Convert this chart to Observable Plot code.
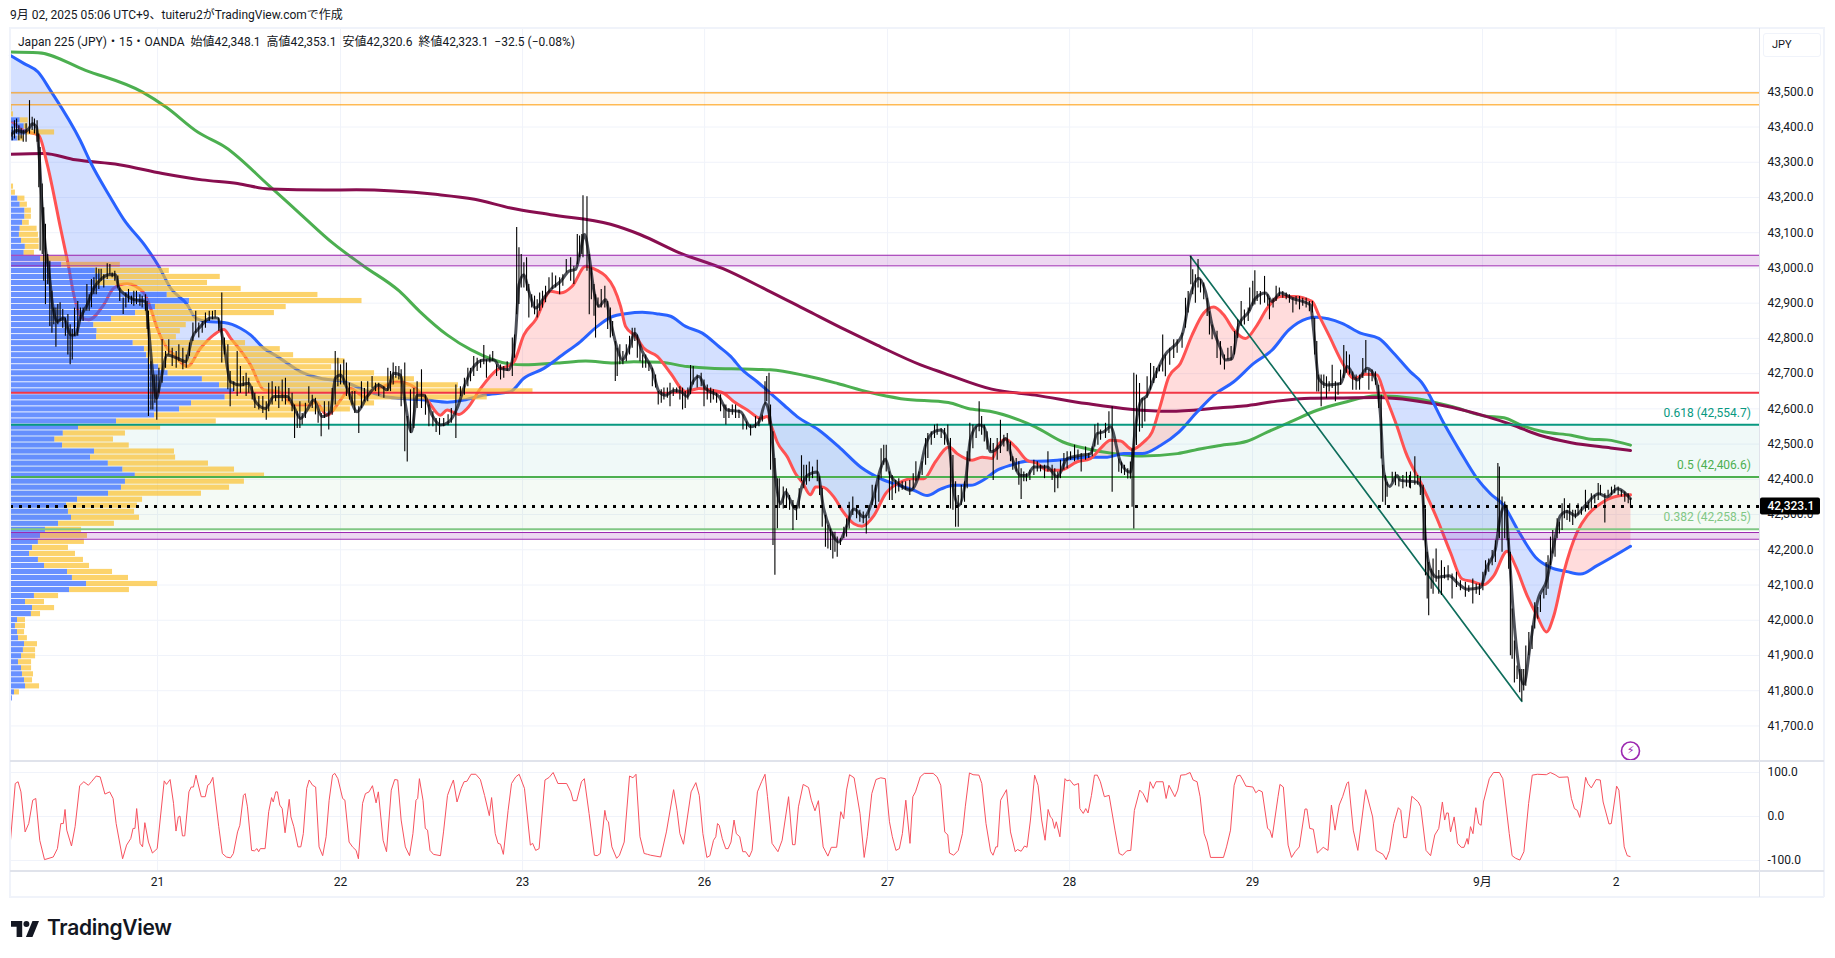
<!DOCTYPE html>
<html><head><meta charset="utf-8">
<style>
html,body{margin:0;padding:0;background:#fff;width:1835px;height:958px;overflow:hidden;font-family:Roboto,"Noto Sans CJK JP",sans-serif;color:#131722}
.abs{position:absolute}
#main{width:1835px;height:760px}
#osc{width:1835px;height:137px}
#main svg,#osc svg{max-width:none!important;display:block}
</style>
<script src="https://cdn.jsdelivr.net/npm/d3@7"></script>
<script src="https://cdn.jsdelivr.net/npm/@observablehq/plot@0.6"></script>
</head><body>
<div class="abs" id="main" style="left:0;top:0"></div>
<div class="abs" id="osc" style="left:0;top:760px"></div>
<div class="abs" style="left:9px;top:27px;width:1815px;height:2px;background:#f0f3fa"></div>
<div class="abs" style="left:9px;top:27px;width:2px;height:870px;background:#f0f3fa"></div>
<div class="abs" style="left:9px;top:896px;width:1815px;height:2px;background:#f0f3fa"></div>
<div class="abs" style="left:1823px;top:27px;width:2px;height:870px;background:#f0f3fa"></div>
<div class="abs" style="left:10px;top:760px;width:1814px;height:2px;background:#e0e3eb"></div>
<div class="abs" style="left:10px;top:870px;width:1814px;height:2px;background:#e0e3eb"></div>
<div class="abs" style="left:1759px;top:28px;width:1px;height:869px;background:#e0e3eb"></div>
<div class="abs" style="left:1763px;top:33px;width:56px;height:22px;border:1px solid #f0f3fa;border-radius:3px;font-size:11px;line-height:22px;text-indent:8px">JPY</div>
<div class="abs" style="left:10px;top:5px;font-size:12px;white-space:nowrap;color:#131722">9月 02, 2025 05:06 UTC+9、tuiteru2がTradingView.comで作成</div>
<div class="abs" style="left:18px;top:32px;font-size:12px;white-space:pre;color:#131722">Japan 225 (JPY)・15・OANDA  始値42,348.1  高値42,353.1  安値42,320.6  終値42,323.1  −32.5 (−0.08%)</div>
<div class="abs" style="left:11px;top:921px;width:28px;height:16px">
<svg width="28" height="16" viewBox="0 0 30 17"><path fill="#131722" d="M0 0h12v17H6V6H0z"/><circle cx="16.5" cy="3.2" r="3.2" fill="#131722"/><path fill="#131722" d="M23 0h7l-7 17h-7z"/></svg></div>
<div class="abs" style="left:47px;top:915px;font-size:21px;font-weight:600;letter-spacing:-.3px;font-family:Inter,Roboto,sans-serif;color:#131722">TradingView</div>
<script>
// time axis (position in 15-minute bars)
const dayBars = [77.4,173.7,269.5,365.3,461.6,557.4,653.7,774.7,845];
const dayLabels = ["21","22","23","26","27","28","29","9月","2"];
const priceTicks = [41700,41800,41900,42000,42100,42200,42300,42400,42500,42600,42700,42800,42900,43000,43100,43200,43300,43400,43500];
const oscTicks = [100,0,-100];

// horizontal levels
const orangeBand = [43463,43497];
const purpleTop = [43006,43036];
const purpleLow = [42230,42249];
const redLevel = 42646;
const fib618 = 42554.7, fib500 = 42406.6, fib382 = 42258.5;
const lastClose = 42323.1;
const trendLine = [[621,43033],[795.4,41770]];

// volume profile rows (top to bottom)
const vpBlue = [0,0,5.1,7.2,8.3,4,0,0,0,0,0,0,0,0,0,3.9,5.1,7.6,7.6,6.4,5.1,4.7,5.8,7.8,7.2,15.9,27,44.7,47.4,44.7,57.9,82.5,94.2,76.3,65.8,53.2,43.9,45.6,45.3,64.6,70.5,71.6,72.8,78,83,101,110,118,113,95.3,89,75.8,55.8,35.8,27.8,23.4,27.4,44.2,42.1,51.5,59.2,65.7,60.5,58.4,51.6,35.3,29.5,30.5,32.1,25.3,18.4,15.8,14.7,11.6,10,14.7,17.9,30,32.6,40,31.1,12.6,7.9,11.6,11,3.7,2.6,3.7,4.2,7.4,6.8,5.8,4.2,5.8,6.3,7.4,7.9,2.1,1];
const vpTotal = [1,1.6,9.3,9.3,23.2,7.2,.4,.4,.4,.4,.4,.4,.4,1.6,2.6,7.6,8.9,11,11,9.9,14,14.7,15.1,15.1,12.6,30.1,57.8,83.6,110.4,103.7,121.4,161.8,185,145.1,138.9,103.5,92.5,89.4,87.3,123.7,142,149,176,169,191.6,212.6,235.8,275,250.9,191.6,178.9,150.3,108.3,79,60.5,54.2,62.5,86.3,86.9,104.2,117.9,133.7,123.1,115.3,100.5,69.5,66.8,65.3,67.9,54.7,37.4,40.5,38.9,30.5,34.2,38.4,41.6,53.7,62.1,77.4,62.6,25.3,17.9,23.2,15.8,7.9,7.9,7.4,8.9,14.2,13.2,13.2,11.1,11.1,12.1,11.6,15.3,4.7,1];
const vpTopPrice = 43453, vpStep = 17.09;

// moving averages [bar, price]
const greenMA = [[0,43613],[14.5,43611],[39.5,43561],[69.5,43499],[82,43456],[98.7,43385],[113.3,43342],[136.2,43233],[152.6,43153],[169.5,43071],[186,43005],[204.7,42934],[215.3,42877],[229.8,42810],[242.2,42768],[263.2,42727],[270.2,42725],[287.8,42730],[302.7,42736],[317.6,42730],[328.1,42734],[342.1,42732],[356.2,42720],[368.5,42715],[386,42713],[400,42711],[418.7,42694],[435.3,42672],[452,42647],[468.6,42629],[493.6,42618],[504,42601],[515.4,42593],[531,42568],[539.3,42549],[553.9,42506],[566.4,42487],[581,42473],[595.5,42466],[614.2,42473],[626.7,42487],[636.7,42496],[650.8,42508],[661.4,42534],[673.6,42563],[687.7,42596],[701.7,42618],[719.2,42637],[740.3,42629],[759,42606],[775.7,42580],[786,42575],[794.4,42555],[806.9,42535],[821.4,42525],[831.8,42514],[840.2,42512],[852.6,42497]];
const maroonMA = [[0,43323],[17.6,43325],[34.2,43307],[57.2,43293],[80,43268],[100.8,43250],[119.5,43240],[136.2,43224],[165.3,43221],[182,43222],[223.6,43209],[244.2,43195],[263.2,43170],[284.3,43151],[315.8,43124],[331.3,43095],[352.1,43043],[375,42998],[397.9,42938],[418.7,42881],[439.5,42824],[456.1,42781],[479,42725],[491.5,42701],[516.4,42656],[539.3,42639],[566.4,42615],[589.3,42599],[610.1,42593],[636.7,42603],[649,42608],[666.6,42622],[684.2,42630],[701.7,42631],[719.2,42632],[738.2,42624],[759,42604],[775.7,42580],[790.2,42555],[804.8,42525],[821.4,42504],[842.2,42489],[852.6,42482]];
const blueMA = [[0,43603],[7.2,43580],[14.5,43556],[21,43504],[36.8,43361],[42.1,43300],[52.6,43200],[59.6,43138],[71,43062],[78,43005],[84.2,42943],[93,42896],[97.4,42858],[103.5,42848],[112.3,42845],[121,42829],[126.3,42810],[133.3,42772],[140.3,42749],[152.6,42706],[163.1,42687],[175.4,42677],[186,42654],[196.5,42635],[205.2,42630],[219.3,42625],[229.8,42619],[238.6,42625],[249.1,42639],[263.1,42649],[270.2,42687],[280.7,42715],[290.4,42753],[300,42791],[308.8,42834],[315.8,42860],[324.6,42871],[332.5,42874],[341.3,42869],[347.4,42863],[355.3,42834],[364.1,42815],[372.8,42777],[379,42749],[385.1,42711],[393,42677],[400,42644],[407,42611],[414,42578],[425.4,42540],[436.8,42488],[447.4,42435],[457.9,42402],[467.5,42383],[475.4,42369],[482.5,42354],[489.5,42372],[496.5,42383],[505.3,42383],[512.3,42399],[519.3,42426],[526.3,42440],[535,42451],[545.6,42452],[556.1,42457],[566.7,42463],[577.2,42463],[585.9,42473],[595.6,42473],[605.2,42496],[614.9,42534],[624.5,42591],[633.3,42639],[643.8,42677],[654.3,42729],[664,42767],[672.8,42824],[682.4,42856],[686.8,42860],[700.8,42843],[710.5,42815],[720.1,42800],[728,42758],[736.8,42705],[742.4,42677],[754.8,42555],[763.1,42478],[771.9,42402],[778.9,42359],[785.9,42326],[792.9,42260],[802.6,42179],[810.5,42150],[819.2,42138],[826.3,42131],[835,42155],[852.6,42210]];
const redMA = [[0.9,43414],[7,43390],[14.9,43376],[19.3,43295],[26.3,43114],[30.7,43000],[33.3,42924],[37.7,42858],[41.2,42853],[49.1,42896],[54.4,42943],[61.4,42955],[70.2,42929],[73.7,42886],[77.2,42829],[82.5,42772],[86,42753],[93,42720],[100,42772],[107,42810],[112.3,42825],[115.8,42801],[122.8,42753],[126.3,42725],[133.3,42654],[141.2,42649],[149.1,42611],[157,42611],[160.5,42620],[166.7,42582],[173.7,42625],[178.9,42658],[186,42635],[192.1,42654],[198.2,42668],[203.5,42677],[210.5,42668],[219.3,42625],[226.3,42582],[229.8,42597],[236,42584],[240.3,42601],[247.4,42658],[256.1,42711],[263.1,42725],[265,42734],[270.2,42810],[276.4,42853],[284.3,42934],[289.5,42929],[295.6,42948],[302.7,43005],[308.8,42993],[313.2,42977],[317.6,42943],[321.1,42891],[323.7,42834],[329,42806],[333.4,42772],[340.4,42749],[347.4,42701],[355.3,42649],[362.3,42658],[370.2,42652],[375.5,42644],[380.8,42620],[387.8,42597],[394.8,42573],[398.3,42578],[400.9,42544],[403.5,42506],[408.8,42464],[413.2,42416],[416.7,42392],[421,42356],[423.7,42378],[427.2,42378],[433.3,42350],[437.7,42312],[443.9,42274],[448.2,42267],[454.4,42297],[460.5,42359],[468.4,42392],[473.7,42402],[480.7,42402],[486.8,42450],[493.9,42492],[498.2,42473],[506.1,42454],[511.4,42463],[516.7,42459],[519.3,42492],[523.7,42514],[528.9,42492],[535,42454],[540.4,42445],[545.6,42426],[552.6,42426],[561.4,42450],[568.4,42459],[573.7,42488],[578.9,42511],[584.2,42509],[590.3,42485],[596.4,42506],[600.8,42534],[605.2,42610],[609.6,42691],[615.7,42729],[621.9,42810],[628,42872],[633.3,42889],[638.5,42867],[643.8,42824],[650,42800],[656.1,42838],[661.4,42886],[668.4,42919],[675.4,42919],[685,42905],[688.5,42867],[693.8,42810],[701.7,42724],[707,42686],[713.1,42698],[719.2,42696],[722.8,42648],[729.8,42549],[734.2,42478],[742.9,42383],[750.8,42288],[757.8,42193],[764,42117],[769.2,42110],[775.4,42101],[780.6,42126],[787.7,42196],[792,42155],[798.2,42070],[803.5,42012],[808.4,41967],[812.2,42012],[817.5,42136],[824.5,42250],[829.8,42297],[836.8,42331],[843.8,42350],[852.6,42356]];
const darkMA = [[0,43376],[3.5,43390],[7,43385],[9.6,43395],[11.4,43409],[13.7,43400],[14.9,43333],[16.7,43171],[18.4,43057],[20.2,42991],[21.9,42905],[24.6,42848],[28,42858],[31.6,42810],[34.2,42810],[36.8,42858],[40.4,42896],[43.9,42943],[47.4,42967],[51.8,42981],[55.3,42981],[57,42943],[60.5,42924],[64.9,42910],[71,42905],[72.8,42820],[74.6,42715],[76.8,42630],[78.9,42677],[82.5,42753],[87.7,42744],[92.1,42734],[95.6,42801],[100,42834],[105.3,42858],[108.8,42858],[112.3,42782],[115.8,42677],[121,42668],[125.4,42673],[129,42620],[134.2,42601],[138.6,42635],[145.6,42635],[149.1,42606],[152.6,42573],[156.1,42597],[159.6,42625],[164,42578],[168.4,42592],[171,42687],[173.7,42696],[177.2,42658],[182.4,42592],[187.7,42635],[193.8,42668],[198.2,42654],[201.7,42701],[205.2,42696],[207.9,42611],[211,42535],[214,42639],[217.5,42639],[221.9,42582],[226.3,42554],[230.7,42563],[235,42601],[239.5,42673],[243.8,42720],[249.1,42739],[254.4,42739],[257.9,42715],[262.3,42711],[265.8,42810],[267.6,42953],[270.2,42981],[272.8,42934],[276.4,42886],[280.7,42915],[285.1,42943],[289.5,42962],[293.9,42991],[297.4,42996],[300,43048],[302.1,43095],[304.4,43038],[307.1,42934],[309.7,42891],[313.2,42910],[315.8,42848],[319.3,42772],[322,42739],[325.5,42772],[328.5,42815],[332.5,42763],[337.8,42711],[341.3,42649],[344.8,42639],[349.2,42652],[352.7,42649],[356.2,42635],[358.8,42673],[362.3,42692],[365.8,42658],[372.8,42635],[377.2,42597],[384.2,42592],[389.5,42549],[393.9,42563],[397.4,42616],[400,42563],[402.7,42402],[405.3,42331],[408,42364],[409.6,42350],[413.2,42316],[416.7,42383],[419.3,42411],[424.6,42421],[428,42316],[431.6,42255],[436,42222],[439.5,42259],[443.9,42316],[449.1,42293],[454.4,42354],[457.9,42430],[460.5,42457],[463.2,42411],[468.4,42383],[473.7,42369],[478,42411],[481.6,42497],[486,42535],[489.5,42540],[493.9,42497],[496.5,42364],[499.1,42326],[502.6,42393],[505.3,42516],[509.6,42554],[512.3,42549],[515.8,42478],[521,42497],[523.7,42516],[527.2,42459],[531.6,42411],[535,42411],[538.6,42435],[545.6,42435],[550.9,42407],[556.1,42459],[563.2,42468],[568.4,42473],[571.9,42530],[575.4,42535],[578.9,42549],[584.2,42449],[589.4,42420],[592,42544],[594.7,42620],[598.2,42639],[601.7,42686],[607,42748],[616.6,42810],[621,42924],[625.4,42971],[628.9,42933],[632.4,42838],[636.8,42772],[639.4,42739],[642.9,42743],[646.4,42838],[651.7,42876],[655.2,42914],[660.5,42929],[664,42905],[668.4,42929],[674.5,42914],[684.2,42895],[685.9,42820],[688.5,42686],[693,42668],[700,42672],[703.5,42720],[708.7,42682],[714,42715],[718.4,42686],[721,42582],[722.8,42420],[725.9,42380],[729.8,42411],[731.5,42397],[740.3,42392],[742.9,42373],[744.7,42231],[747.3,42145],[750.8,42122],[757,42126],[762.2,42103],[766.6,42088],[773.6,42093],[777,42150],[781.5,42202],[784.2,42297],[786.8,42326],[788.5,42212],[791.2,42003],[793.8,41870],[796.4,41818],[800,41936],[803.5,42050],[808.7,42117],[812.2,42212],[815.7,42297],[819.2,42309],[823.6,42297],[828,42321],[835.9,42359],[840.3,42350],[845.6,42373],[852.6,42345]];

// ribbon between the red and blue averages: where the two cross, and which one is on top
const ribbonSplits = [[0,43414],[190,42648],[219,42625],[244,42632],[322.5,42866],[465.8,42388],[538.6,42449],[569.3,42461],[686,42862],[818,42141],[852.6,42356]];
const ribbonTop = ["blue","red","blue","red","blue","red","blue","red","blue","red"];

// price bars [bar, high, low]
const wicks20 = [[.9,43400,43361],[2.1,43418,43366],[3.2,43423,43380],[4.4,43404,43361],[5.6,43395,43366],[6.7,43390,43357],[8.2,43409,43357],[10,43475,43380],[11.4,43428,43390],[12.6,43423,43380],[14,43418,43357],[14.9,43380,43228],[15.6,43342,43048],[16.7,43238,43038],[17.5,43171,42962],[18.4,43124,42896],[19.6,43038,42953],[20.7,43019,42834],[21.8,42934,42815],[22.8,42886,42839],[23.9,42886,42775],[24.9,42896,42839],[26.1,42901,42848],[27.5,42882,42829],[28.9,42858,42806],[30.2,42868,42753],[31.4,42839,42725],[32.5,42825,42739],[33.7,42886,42806],[35.4,42905,42806],[36.8,42886,42848],[38.2,42886,42848],[40.2,42953,42877],[41.4,42924,42877],[42.6,42967,42887],[43.9,42972,42924],[45.1,43000,42924],[46.5,42996,42939],[47.7,42996,42962],[49.1,42981,42943],[50.9,43012,42967],[52.3,43010,42981],[53.5,42986,42972],[54.9,42991,42962],[56.5,42977,42943],[57.5,42943,42905],[59.3,42915,42868],[60.7,42929,42886],[62.1,42939,42901],[63.7,42920,42896],[64.9,42934,42891],[66.3,42934,42896],[68.1,42924,42891],[69.3,42920,42886],[71,42924,42877],[71.9,42905,42825],[72.6,42877,42578],[73.9,42734,42597],[74.9,42696,42597],[76,42696,42616],[77,42696,42568]];
const wicks21 = [[78.1,42715,42644],[79.8,42796,42673],[81.6,42763,42715],[83.3,42796,42753],[85.1,42772,42720],[87.2,42763,42715],[88.6,42782,42734],[90.7,42772,42711],[92.5,42753,42715],[94.2,42787,42749],[96,42844,42791],[97.5,42877,42815],[99.1,42844,42801],[100.9,42848,42815],[102.6,42872,42829],[104.6,42877,42848],[106.3,42877,42853],[107.7,42879,42858],[109.6,42858,42820],[111.2,42929,42730],[112.6,42801,42753],[114.4,42782,42654],[115.6,42706,42606],[117.5,42677,42649],[119.3,42763,42635],[121,42720,42644],[122.5,42692,42663],[124,42701,42635],[125.4,42687,42644],[127.2,42663,42625],[128.6,42644,42601],[130.7,42635,42597],[132.8,42635,42587],[134.6,42620,42568],[135.9,42673,42592],[137.7,42677,42611],[139.5,42663,42620],[141.2,42663,42601],[143,42682,42620],[144.7,42687,42611],[146.5,42658,42620],[148.2,42644,42592],[149.5,42611,42516],[150.9,42592,42544],[152.3,42620,42544],[153.5,42587,42554],[155.2,42616,42573],[157,42663,42616],[158.8,42639,42601],[160.5,42630,42583],[161.9,42592,42559],[163.5,42587,42521],[165.2,42620,42573],[167.5,42620,42540],[169.3,42658,42582],[170.9,42763,42611],[172.3,42744,42663]];
const wicks22 = [[173.7,42725,42668],[175.4,42739,42668],[176.8,42730,42635],[178.4,42673,42625],[179.8,42649,42611],[181.2,42649,42587],[183.3,42606,42530],[184.7,42677,42601],[186.3,42658,42620],[188,42677,42620],[190.3,42692,42658],[192.1,42673,42649],[193.8,42673,42635],[196.5,42663,42630],[198.6,42715,42649],[200,42706,42649],[201.4,42730,42668],[202.8,42720,42687],[204.4,42720,42682],[205.6,42711,42606],[207.5,42730,42478],[208.8,42578,42449],[210.5,42654,42530],[212.3,42658,42544],[214,42677,42601],[216.3,42711,42601],[218.4,42639,42582],[220.2,42611,42549],[222.3,42592,42549],[224,42573,42533],[225.8,42573,42525],[228,42573,42549],[230.3,42583,42552],[232,42601,42559],[234.4,42668,42516],[236.8,42663,42635],[238.9,42687,42639],[240.7,42715,42663],[242.1,42715,42677],[243.8,42749,42692],[245.6,42744,42706],[247.4,42739,42715],[249.1,42780,42725],[250.5,42739,42687],[252.3,42753,42730],[253.8,42763,42735],[255.8,42725,42692],[257.9,42725,42682],[259.6,42720,42687],[261.4,42734,42706],[264.1,42801,42692],[265.3,42810,42744],[266.4,43115,42867],[267.6,43057,42896]];
const wicks23 = [[268.8,43038,42943],[270.2,43015,42943],[271.6,43029,42934],[272.8,42953,42858],[274.3,42924,42886],[275.8,42920,42867],[277.2,42910,42858],[278.5,42929,42877],[280,42934,42886],[281.6,42948,42901],[283.4,42972,42929],[285.1,42986,42939],[286.9,42977,42943],[289,42972,42924],[290.7,42981,42948],[292.5,43024,42986],[294.8,43029,42962],[296.5,43005,42953],[298.3,43095,43010],[299.5,43091,43029],[300.7,43095,43038],[301.3,43205,43029],[303.4,43202,42991],[304.6,43038,42867],[305.7,43000,42910],[307.1,42953,42863],[307.9,42924,42801],[309.2,42915,42886],[310.9,42939,42886],[312.8,42948,42886],[314.3,42905,42825],[315.7,42886,42801],[316.9,42848,42806],[318.3,42791,42678],[319.3,42772,42692],[320.7,42782,42725],[322.3,42763,42725],[324.1,42782,42734],[325.8,42806,42753],[327.2,42829,42772],[328.6,42829,42791],[329.9,42810,42744],[331.3,42782,42734],[332.7,42753,42715],[334.3,42753,42715],[336,42730,42706],[337.8,42715,42663],[339.5,42696,42659],[340.9,42649,42611],[342.5,42654,42616],[343.9,42659,42625],[345.7,42659,42630],[347.1,42673,42606],[348.8,42659,42635],[350.6,42659,42644],[352.3,42663,42625],[353.7,42659,42597],[355.1,42649,42601],[356.5,42659,42625],[357.9,42723,42640],[359.3,42720,42668],[361.4,42696,42659],[363.5,42701,42663]];
const wicks26 = [[365,42682,42606],[366.7,42668,42625],[368.5,42659,42616],[369.9,42654,42625],[371.6,42644,42616],[373.7,42640,42592],[375.5,42611,42573],[376.5,42611,42554],[378.1,42601,42573],[379.9,42611,42582],[381.6,42611,42573],[383.4,42597,42573],[385.5,42583,42540],[387.4,42563,42540],[389.5,42554,42523],[392.1,42578,42544],[393.9,42573,42549],[395.7,42582,42563],[397.1,42677,42611],[398,42692,42620],[399.2,42701,42554],[400,42611,42426],[401.3,42535,42212],[402.3,42459,42128],[403.6,42402,42260],[404.6,42402,42317],[406.7,42378,42316],[408.4,42373,42321],[410,42354,42312],[411.8,42340,42255],[413.7,42326,42283],[415.1,42373,42316],[416.3,42467,42393],[417.5,42440,42373],[418.9,42440,42383],[420.4,42449,42393],[422.1,42435,42402],[424.6,42454,42393],[425.8,42407,42354],[427.2,42374,42264],[428.9,42298,42207],[430.2,42269,42202],[431.6,42259,42198],[432.8,42250,42174],[433.9,42250,42193],[435.1,42236,42179],[436.8,42231,42212],[438.6,42264,42231],[440,42288,42236],[441.4,42335,42259],[443.3,42350,42297],[445.3,42326,42288],[447,42312,42278],[448.8,42307,42274],[450.4,42297,42245],[451.8,42326,42288],[453.5,42383,42326],[455.3,42383,42326],[457,42411,42335],[458.2,42487,42402],[459.6,42497,42440],[460.9,42497,42421]];
const wicks27 = [[462.6,42421,42340],[464,42411,42340],[465.8,42397,42359],[467.5,42402,42364],[469.3,42393,42369],[471.1,42393,42369],[473.3,42397,42354],[475.1,42416,42373],[476.5,42450,42393],[478.1,42421,42402],[479.8,42450,42411],[481.6,42516,42440],[482.8,42530,42459],[484.6,42535,42497],[486.3,42554,42516],[487.7,42556,42525],[489.8,42544,42516],[491.6,42544,42497],[493.3,42554,42497],[494.7,42516,42316],[496,42468,42312],[497.4,42393,42264],[498.8,42354,42264],[500.4,42383,42326],[502.1,42393,42335],[503.5,42478,42373],[504.9,42559,42450],[506.5,42554,42487],[508.2,42549,42516],[509.8,42620,42535],[511.1,42578,42525],[512.5,42554,42506],[514,42535,42483],[515.8,42516,42478],[517.2,42502,42397],[519.3,42516,42454],[521,42568,42473],[522.8,42525,42492],[524.6,42530,42478],[526.3,42506,42450],[527.5,42464,42426],[529.3,42459,42421],[530.7,42450,42383],[531.9,42430,42343],[533.3,42421,42393],[534.7,42416,42393],[536.5,42426,42397],[538.6,42454,42411],[540.4,42450,42421],[542.1,42440,42421],[544.2,42440,42402],[546,42478,42421],[548.2,42440,42397],[549.6,42430,42362],[551.2,42421,42373],[552.6,42454,42402],[554.4,42473,42426],[556.1,42478,42430]];
const wicks28 = [[557.9,42478,42454],[560,42497,42450],[561.8,42483,42454],[563.5,42473,42421],[565.8,42492,42454],[567.5,42473,42459],[569.3,42492,42464],[570.7,42554,42492],[572.3,42559,42497],[573.7,42540,42511],[576.3,42559,42516],[578.1,42592,42530],[579.8,42606,42363],[583.3,42458,42420],[584.7,42449,42416],[586.3,42440,42411],[588,42430,42401],[589.4,42449,42401],[590.3,42487,42321],[591.2,42701,42259],[592.6,42696,42496],[594.2,42672,42534],[595.6,42630,42544],[597,42630,42563],[598.2,42691,42630],[600,42729,42653],[601.7,42720,42672],[603.1,42715,42686],[604.7,42724,42705],[606.4,42810,42705],[607.8,42753,42691],[610.1,42772,42724],[612.2,42796,42743],[614,42796,42758],[616.6,42815,42772],[618.4,42914,42829],[619.8,42933,42872],[621.2,43033,42952],[622.2,42995,42924],[623.6,42981,42900],[625,43024,42943],[626.3,42967,42929],[628,42957,42910],[629.8,42914,42862],[631,42876,42810],[632.4,42838,42796],[635,42820,42743],[636.8,42791,42724],[638.9,42753,42710],[640.7,42772,42739],[642.4,42777,42736],[644.2,42820,42753],[645.9,42853,42800],[647.7,42905,42834],[649.4,42881,42838],[651.4,42886,42848],[652.2,42943,42876]];
const wicks29 = [[653.8,42962,42891],[654.9,42992,42895],[656.1,42933,42905],[657.8,42933,42895],[660,42976,42900],[661.7,42924,42891],[662.6,42914,42853],[664.5,42914,42886],[666.1,42948,42905],[667.8,42943,42919],[669.6,42933,42914],[671.4,42929,42910],[673.1,42924,42900],[674.9,42914,42872],[676.6,42919,42895],[678.4,42919,42881],[680.1,42914,42891],[681.9,42914,42886],[683.6,42905,42876],[685.2,42905,42872],[686.4,42857,42753],[687.5,42791,42648],[688.5,42696,42648],[689.8,42696,42606],[691.2,42696,42658],[692.6,42691,42629],[694,42677,42648],[695.6,42724,42658],[697.3,42677,42620],[698.7,42672,42639],[700,42710,42667],[701.7,42780,42686],[703.1,42762,42701],[704.7,42753,42696],[706.4,42705,42653],[708.2,42696,42653],[710,42696,42653],[711.7,42743,42686],[713.3,42794,42701],[714.9,42710,42653],[716.6,42710,42677],[718.4,42705,42667],[720.1,42667,42601],[721.4,42639,42458],[722.2,42440,42335],[723.6,42411,42326],[724.5,42392,42349],[727.2,42420,42392],[728.9,42420,42382],[730.7,42401,42378],[732.8,42411,42373],[734.7,42420,42378],[736.3,42411,42375],[736.8,42421,42373],[739.1,42464,42383],[740.6,42411,42383],[742,42407,42354],[743.5,42383,42226],[744.7,42316,42126],[745.6,42193,42060],[746.4,42164,42013],[747.7,42145,42088],[748.7,42174,42074],[750.3,42202,42108],[751.7,42141,42074],[753.1,42169,42070],[754.7,42150,42117],[756.6,42155,42112],[758.7,42131,42060],[761,42136,42093],[763.1,42112,42084],[765.7,42108,42065],[767.5,42098,42079],[769.6,42117,42046],[771.4,42103,42074],[773.1,42103,42070]];
const wicksSep = [[774.9,42136,42084],[776.3,42169,42126],[778,42174,42136],[779.8,42198,42155],[781.5,42226,42164],[782.8,42445,42250],[783.6,42435,42231],[785,42350,42193],[786.4,42336,42231],[787.7,42326,42226],[788.5,42231,42145],[789.4,42193,41899],[790.3,42032,41889],[791.5,41941,41822],[792.9,41870,41832],[794.3,41860,41794],[795.4,41860,41770],[796.4,41860,41799],[797.5,41927,41813],[799.1,41965,41899],[800.8,41984,41917],[802.2,42050,41975],[803.8,42036,42003],[805.2,42070,42022],[807,42088,42060],[808.2,42164,42070],[809.2,42183,42088],[810.5,42236,42155],[811.7,42255,42188],[812.9,42231,42179],[814,42288,42231],[815.2,42278,42245],[816.6,42331,42255],[817.8,42345,42288],[819.2,42312,42283],[820.6,42331,42278],[822.2,42312,42269],[823.6,42312,42288],[825,42331,42298],[826.8,42321,42298],[828.9,42369,42307],[830.6,42335,42312],[832,42359,42316],[833.8,42354,42331],[835.6,42388,42340],[836.8,42383,42354],[839.1,42359,42276],[840.8,42369,42350],[842.6,42378,42354],[844.3,42383,42359],[846.1,42378,42354],[847.8,42369,42350],[849.6,42364,42335],[851.4,42359,42331],[852.6,42345,42320]];

// lower-pane oscillator [bar, value]
const osc1 = [[0,-54],[2.5,75],[4,79],[5.5,56],[7.7,-35],[9.6,-16],[11.7,37],[13.3,41],[15.4,-54],[17.9,-98],[22.5,-92],[24.7,-73],[26.5,-16],[27.8,-16],[28.7,16],[29.6,-31],[32.1,-67],[34,-23],[36.4,70],[38.6,79],[41,71],[42.6,79],[45.1,92],[47.2,90],[49.7,51],[52.2,56],[54,41],[55.6,-16],[59,-96],[61.1,-65],[63.3,-50],[64.5,-27],[65.5,-27],[66.4,18],[68.2,-61],[69.5,-69],[70.7,-14],[72.6,-58],[74.7,-83],[77.2,-73],[80.9,81],[82.1,73],[84,84],[85.8,30],[87.1,-33],[88.3,-1],[89.2,1],[90.5,-44],[91.7,-44],[93.9,56],[95.1,67],[96.3,67],[97.6,94],[100.4,45],[102.5,45],[103.8,71],[105,75],[106.5,89],[109.6,-23],[111.5,-84],[113.6,-92],[115.8,-94],[117.3,-84],[119.5,-35],[120.7,-20],[122.6,48],[123.5,52],[124.7,22],[126.9,-77],[128.4,-78],[129.7,-73],[130.6,-80],[131.5,-73],[134,-73],[135.9,11],[137.4,43],[138.3,33],[139.6,56],[140.5,56],[141.7,26],[143,18],[144.5,-37],[146.7,39],[147.6,-1],[149.1,-23],[151.3,-69],[152.8,-69],[154.1,-39],[155.9,64],[157.2,83],[159,71],[160.6,67],[162.4,-69],[164.3,-89],[166.1,-46],[167.7,37],[169.5,94],[170.7,98],[172.3,86],[174.8,41],[176,37],[178.2,-58],[180,-69],[181.9,-77],[183.1,-96],[185.3,30],[186.8,52],[188.7,56],[190.5,70],[192.4,31],[193.6,56],[196.1,-54],[197.9,-80],[200.4,60],[202.2,84],[203.8,83],[205.6,-8],[207.8,-69],[210,-89],[211.8,-39],[213.4,37],[214.3,41],[215.2,86],[217.1,37],[218.3,-27],[219.5,-31],[220.8,-77],[222.6,-86],[226.3,-89],[227.9,-35],[230,48],[231.6,67],[233.1,83],[235,33],[237.2,64],[238.7,79],[240.2,80],[242.4,96],[244.9,96],[247.3,84],[249.5,48],[252,2],[253.2,43],[255.1,-39],[256.6,-61],[257.9,-63],[259.4,-86],[261.9,14],[263.7,75],[265.9,90],[267.7,96],[270.5,64],[273.6,-65],[274.8,-61],[276.4,-77],[278.2,-73],[281.3,83],[283.5,89],[285.6,100],[288.1,75],[292.7,75],[294.9,56],[296.1,36],[298,36],[300.5,79],[302,86],[304.5,7],[307.3,-88],[308.8,-89],[310.4,-84],[312.8,14],[313.7,-8],[314.7,-12],[316.5,-69],[319,-95],[320.5,-88],[323,-58],[325.8,92],[327.6,88],[329.2,96],[331.3,-46],[333.5,-84],[335.3,-86],[336.9,-88],[342.2,-92],[345.2,-35],[349,61],[350.8,14],[352.3,-39],[354.2,-63],[358.2,56],[360.7,77],[362.5,48],[364.4,-39],[366.5,-93],[368.1,-89],[370,-54],[371.2,-46],[372.1,-16],[373,-20],[374.6,-50],[376.4,-73],[377.7,-73],[379.2,-58],[380.8,-8],[382,-39],[383.8,-46],[385.4,-80],[386.9,-80],[388.8,-92],[390.3,-77],[393.1,56],[395.3,79],[397.1,96],[398.4,45],[400.8,-61],[403.9,-80],[406.1,-54],[409.5,45],[411.6,-64],[412.9,-64],[414.7,22],[417.2,73],[420,66],[421.5,37],[423.4,13],[425.2,36],[427.7,-69],[430.2,-90],[432,-70],[434.8,-70],[437,11],[438.5,-5],[440,60],[441.6,95],[444,88],[447.1,7],[449.3,-93],[450.9,-46],[453.3,52],[455.5,84],[458,88],[460.4,86],[462.6,-12],[464.1,-46],[466,-77],[467.8,-73],[469.4,-39],[471.2,37],[473.4,-61],[474.9,45]];
const osc2 = [[476.3,56],[478.8,90],[480.9,98],[485.6,98],[487.7,90],[489.6,71],[491.7,-35],[493.3,-42],[494.2,-83],[496.4,-88],[498.8,-77],[501,-39],[502.5,22],[504.7,99],[506.6,95],[509.7,94],[511.2,75],[513.4,-16],[515.8,-79],[517.1,-88],[518.6,-69],[519.5,-69],[521.1,37],[524.2,61],[526.3,-35],[528.8,-80],[530,-75],[531.9,-79],[533.7,-67],[535,-70],[536.8,-8],[539,94],[540.8,71],[542.7,-8],[544.5,-54],[546.1,16],[547.3,-1],[548.3,-5],[549.5,-27],[550.4,-12],[552.3,-46],[555,86],[556,81],[557.5,83],[559.7,71],[562.1,75],[562.8,18],[564.6,7],[565.9,18],[567.1,8],[568.9,48],[570.5,94],[572,94],[573.6,79],[575.7,45],[578.2,48],[581.3,-31],[583.5,-84],[585.3,-88],[587.5,-78],[589.6,-77],[591.5,14],[594.3,60],[596.1,52],[598.3,32],[599.8,79],[601.4,64],[602.9,79],[606.6,79],[608.2,41],[609.7,71],[612.8,45],[614.3,60],[615.9,94],[618.3,95],[620.8,100],[622.4,83],[624.5,79],[626.1,45],[628.2,-39],[629.8,-58],[631.6,-93],[638.4,-93],[640,-69],[642.1,-31],[644,71],[645.5,92],[647.1,94],[648.6,83],[650.2,69],[653.9,67],[655.4,54],[657,60],[658.8,56],[661.6,-27],[662.8,-31],[664,-48],[667.1,45],[668.1,73],[669.9,67],[672.4,-65],[674.2,-93],[676.1,-80],[678.3,-69],[681.3,17],[682.3,17],[683.8,-27],[685.7,-29],[687.8,-83],[690.9,-70],[693.4,-77],[695.2,26],[697.1,-31],[699.3,26],[701.1,45],[703.3,75],[704.2,79],[706.7,-31],[709.1,-77],[713.2,61],[716.9,-1],[718.7,-77],[722.4,-86],[724,-98],[725.8,-77],[728,-16],[730.4,20],[731.7,14],[733.2,-48],[734.8,-48],[737.5,46],[740.9,33],[742.2,22],[745,-77],[747.4,-89],[749.6,-42],[751.7,-27],[753.6,33],[754.8,-8],[755.8,8],[756.7,8],[757.9,-35],[759.8,-1],[761.6,-61],[763.5,-70],[765,-70],[766.6,-50],[767.2,-63],[768.4,-23],[769.7,-39],[771.2,20],[772.7,-16],[774,-20],[775.2,33],[778.3,86],[780.5,100],[783.6,100],[785.4,86],[788.8,-39],[790.3,-89],[792.2,-95],[794.4,-99],[796.5,-80],[799,30],[800.9,94],[803.6,96],[808.3,95],[810.4,100],[812.9,95],[815,89],[819.7,90],[821.5,41],[823.1,18],[824.6,14],[825.9,-2],[827.4,37],[829,89],[830.2,75],[832,65],[834.5,84],[836.7,83],[838.2,33],[841.3,-17],[842.5,-16],[845.3,69],[846.5,60],[849.3,-69],[850.9,-89],[852.4,-91]];

const xMax = 920.5, xDomain = [0, xMax];
const priceFmt = d3.format(",.1f");
const FONT = 'Roboto,"Noto Sans CJK JP",sans-serif';
const BLUE="#2962ff", RED="#ff5252", GREEN="#4caf50", MAROON="#880e4f", DARK="#131722", TEAL="#089981", LGREEN="#81c784", PURPLE="#9c27b0", ORANGE="#ff9800", RLINE="#f23645";

const wicks = [...wicks20,...wicks21,...wicks22,...wicks23,...wicks26,...wicks27,...wicks28,...wicks29,...wicksSep];
const vpRows = vpBlue.map((b,i)=>({p:vpTopPrice-i*vpStep,b,t:vpTotal[i]}));
const band = (a,b,fill,o)=>Plot.rect([{}],{x1:0,x2:xMax,y1:a,y2:b,fill,fillOpacity:o});
const level = (v,stroke,w)=>Plot.ruleY([v],{x1:0,x2:xMax,stroke,strokeWidth:w});
const ma = (d,stroke,w=3,o=1)=>Plot.line(d,{x:"0",y:"1",stroke,strokeWidth:w,strokeOpacity:o,curve:"monotone-x"});

// ribbon polygons
const ribbon = ribbonTop.map((top,i)=>{
  const a=ribbonSplits[i], b=ribbonSplits[i+1];
  const inn=l=>l.filter(d=>d[0]>=a[0]&&d[0]<=b[0]);
  const poly=[a,...inn(redMA),b,...inn(blueMA).reverse()];
  return Plot.line(poly,{x:"0",y:"1",fill:top==="red"?RED:BLUE,fillOpacity:.2,stroke:"none"});
});

const fibLabels=[
 {t:"0.618 (42,554.7)",p:fib618,c:TEAL},
 {t:"0.5 (42,406.6)",p:fib500,c:GREEN},
 {t:"0.382 (42,258.5)",p:fib382,c:LGREEN}];

const mainPlot = Plot.plot({
  width:1835,height:760,marginLeft:10,marginRight:76,marginTop:28,marginBottom:0,
  style:{fontFamily:FONT,fontSize:"12px",background:"transparent",color:"#131722",maxWidth:"none"},
  x:{domain:xDomain,axis:null},
  y:{domain:[41601.9,43679.7]},
  marks:[
    Plot.ruleY(priceTicks,{x1:0,x2:xMax,stroke:"#f0f3fa",strokeWidth:1}),
    Plot.ruleX(dayBars,{stroke:"#f0f3fa",strokeWidth:1}),
    band(fib500,fib618,TEAL,.06),
    band(fib382,fib500,GREEN,.06),
    band(orangeBand[0],orangeBand[1],ORANGE,.06),
    ...ribbon,
    ma(greenMA,GREEN),
    ma(maroonMA,MAROON),
    ma(blueMA,BLUE),
    ma(redMA,RED),
    Plot.rect(vpRows,{x1:0,x2:"b",y1:d=>d.p-7.3,y2:d=>d.p+7.3,fill:BLUE,fillOpacity:.7}),
    Plot.rect(vpRows,{x1:"b",x2:"t",y1:d=>d.p-7.3,y2:d=>d.p+7.3,fill:"#fbc02d",fillOpacity:.7}),
    band(purpleTop[0],purpleTop[1],PURPLE,.18),
    band(purpleLow[0],purpleLow[1],PURPLE,.18),
    level(orangeBand[0],ORANGE,1),level(orangeBand[1],ORANGE,1),
    level(purpleTop[0],PURPLE,1),level(purpleTop[1],PURPLE,1),
    level(purpleLow[0],PURPLE,1),level(purpleLow[1],PURPLE,1),
    level(redLevel,RLINE,2),
    level(fib618,TEAL,2),level(fib500,GREEN,2),level(fib382,LGREEN,2),
    Plot.line(trendLine,{x:"0",y:"1",stroke:"#0f6e5c",strokeWidth:1.7}),
    Plot.line(darkMA,{x:"0",y:"1",stroke:DARK,strokeWidth:3,strokeOpacity:.75,curve:"monotone-x"}),
    Plot.ruleX(wicks,{x:"0",y1:"1",y2:"2",stroke:"#000",strokeWidth:1.1}),
    Plot.ruleY([lastClose],{x1:0,x2:xMax,stroke:"#000",strokeWidth:3,strokeDasharray:"3 6"}),
    Plot.text(fibLabels,{x:916,y:d=>d.p+33,text:"t",fill:"c",textAnchor:"end",fontSize:12}),
    Plot.dot([{}],{x:852.6,y:41629,r:9,stroke:PURPLE,strokeWidth:1.6,fill:"#fff"}),
    Plot.text([{}],{x:852.6,y:41629,text:()=>"⚡\uFE0E",fill:PURPLE,fontSize:11,fontFamily:"DejaVu Sans"}),
    Plot.axisY(priceTicks,{anchor:"right",tickSize:0,tickPadding:8,tickFormat:priceFmt,label:null,fontSize:12}),
    Plot.rect([{}],{x1:921,x2:952.6,y1:lastClose-24,y2:lastClose+24,fill:"#000",rx:2}),
    Plot.text([{}],{x:937,y:lastClose,text:()=>priceFmt(lastClose),fill:"#fff",fontSize:12,fontWeight:500})
  ]
});
document.getElementById("main").appendChild(mainPlot);

const dayMap=new Map(dayBars.map((d,i)=>[d,dayLabels[i]]));
const oscPlot = Plot.plot({
  width:1835,height:137,marginLeft:10,marginRight:76,marginTop:0,marginBottom:27,
  style:{fontFamily:FONT,fontSize:"12px",background:"transparent",color:"#131722",maxWidth:"none"},
  x:{domain:xDomain,axis:null},
  y:{domain:[-122.7,127.3]},
  marks:[
    Plot.ruleY(oscTicks,{x1:0,x2:xMax,stroke:"#f0f3fa",strokeWidth:1}),
    Plot.ruleX(dayBars,{stroke:"#f0f3fa",strokeWidth:1}),
    Plot.line([...osc1,...osc2],{x:"0",y:"1",stroke:"#f7525f",strokeWidth:1}),
    Plot.axisY(oscTicks,{anchor:"right",tickSize:0,tickPadding:8,tickFormat:d=>d3.format(".1f")(d).replace("−","-"),label:null,fontSize:12}),
    Plot.axisX(dayBars,{anchor:"bottom",tickSize:0,tickPadding:7,tickFormat:d=>dayMap.get(d),label:null,fontSize:12})
  ]
});
document.getElementById("osc").appendChild(oscPlot);
</script>
</body></html>
